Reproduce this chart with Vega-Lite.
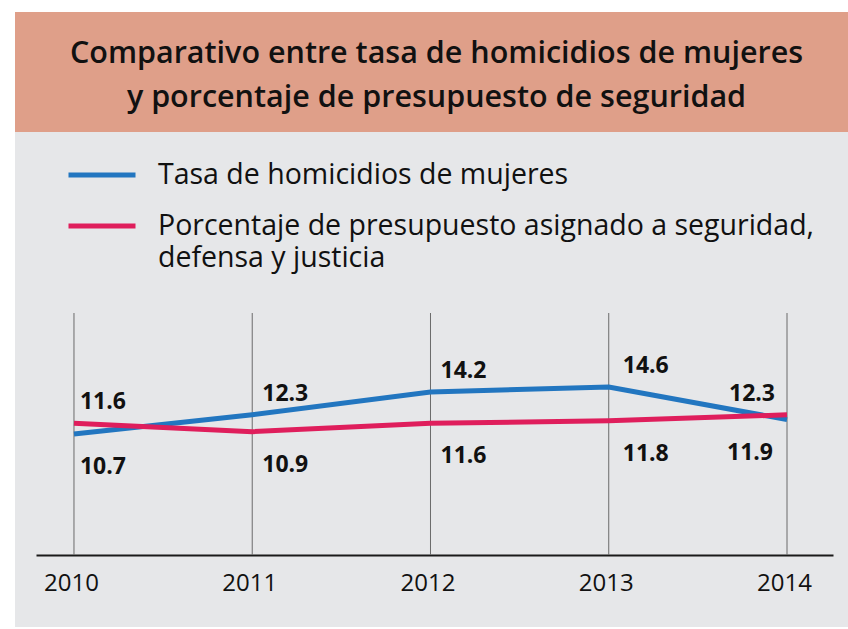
{
  "$schema": "https://vega.github.io/schema/vega-lite/v6.json",
  "background": "white",
  "padding": {"left": 15, "top": 12, "right": 0, "bottom": 2},
  "spacing": 0,
  "config": {"font": "Open Sans", "concat": {"spacing": 0}, "view": {"stroke": null}},
  "datasets": {
    "lines": [
      {"year": 2010, "serie": "Tasa de homicidios de mujeres", "value": 10.7},
      {"year": 2011, "serie": "Tasa de homicidios de mujeres", "value": 12.3},
      {"year": 2012, "serie": "Tasa de homicidios de mujeres", "value": 14.2},
      {"year": 2013, "serie": "Tasa de homicidios de mujeres", "value": 14.6},
      {"year": 2014, "serie": "Tasa de homicidios de mujeres", "value": 11.9},
      {"year": 2010, "serie": "Porcentaje de presupuesto asignado a seguridad, defensa y justicia", "value": 11.6},
      {"year": 2011, "serie": "Porcentaje de presupuesto asignado a seguridad, defensa y justicia", "value": 10.9},
      {"year": 2012, "serie": "Porcentaje de presupuesto asignado a seguridad, defensa y justicia", "value": 11.6},
      {"year": 2013, "serie": "Porcentaje de presupuesto asignado a seguridad, defensa y justicia", "value": 11.8},
      {"year": 2014, "serie": "Porcentaje de presupuesto asignado a seguridad, defensa y justicia", "value": 12.3}
    ],
    "years": [{"year": 2010}, {"year": 2011}, {"year": 2012}, {"year": 2013}, {"year": 2014}],
    "heading": [
      {"line": 1, "text": "Comparativo entre tasa de homicidios de mujeres"},
      {"line": 2, "text": "y porcentaje de presupuesto de seguridad"}
    ]
  },
  "vconcat": [
    {
      "width": 833,
      "height": 120,
      "view": {"fill": "#DF9F89", "stroke": null},
      "data": {"name": "heading"},
      "mark": {"type": "text", "fontSize": 30.5, "fontWeight": 600, "color": "#111111", "baseline": "alphabetic", "align": "center", "dx": 5},
      "encoding": {
        "y": {"field": "line", "type": "ordinal", "axis": null, "scale": {"type": "point", "range": [51, 95], "padding": 0}},
        "text": {"field": "text"}
      }
    },
    {
      "width": 833,
      "height": 495,
      "view": {"fill": "#E6E7E9", "stroke": null},
      "layer": [
        {
          "data": {"name": "years"},
          "mark": {"type": "rule", "color": "#6b6b6b", "strokeWidth": 1},
          "encoding": {
            "x": {"field": "year", "type": "quantitative",
              "scale": {"domain": [2009.787, 2014.258], "range": [21, 818], "nice": false, "zero": false},
              "axis": {"title": null, "values": [2010, 2011, 2012, 2013, 2014], "format": "d", "orient": "bottom", "offset": -72, "domainColor": "#1a1a1a", "domainWidth": 2, "ticks": false, "grid": false, "labelFontSize": 24, "labelColor": "#111111", "labelPadding": 16, "labelFont": "Open Sans", "labelFlush": false, "labelOffset": -3}},
            "y": {"datum": 20.75, "type": "quantitative", "scale": {"domain": [0.66, 20.75], "range": [423, 181], "nice": false, "zero": false}, "axis": null},
            "y2": {"datum": 0.66}
          }
        },
        {
          "data": {"name": "lines"},
          "mark": {"type": "line", "strokeWidth": 5, "strokeCap": "butt"},
          "encoding": {
            "x": {"field": "year", "type": "quantitative",
              "scale": {"domain": [2009.787, 2014.258], "range": [21, 818], "nice": false, "zero": false},
              "axis": {"title": null, "values": [2010, 2011, 2012, 2013, 2014], "format": "d", "orient": "bottom", "offset": -72, "domainColor": "#1a1a1a", "domainWidth": 2, "ticks": false, "grid": false, "labelFontSize": 24, "labelColor": "#111111", "labelPadding": 16, "labelFont": "Open Sans", "labelFlush": false, "labelOffset": -3}},
            "y": {"field": "value", "type": "quantitative", "axis": null},
            "color": {"field": "serie", "type": "nominal",
              "scale": {"domain": ["Tasa de homicidios de mujeres", "Porcentaje de presupuesto asignado a seguridad, defensa y justicia"], "range": ["#2276C0", "#DF1E5C"]},
              "legend": {"orient": "none", "legendX": 51, "legendY": 127, "title": null, "padding": 0,
                "symbolType": "stroke", "symbolSize": 4489, "symbolStrokeWidth": 5,
                "labelFont": "Open Sans", "labelFontSize": 28.5, "labelColor": "#111111", "labelOffset": 20, "labelLimit": 0, "rowPadding": 0,
                "encode": {"labels": {"update": {"lineHeight": {"value": 32}}}},
                "labelExpr": "datum.label == 'Tasa de homicidios de mujeres' ? datum.label : ['Porcentaje de presupuesto asignado a seguridad,', 'defensa y justicia']"}
            }
          }
        },
        {
          "data": {"name": "lines"},
          "transform": [
            {"joinaggregate": [{"op": "max", "field": "value", "as": "maxv"}], "groupby": ["year"]},
            {"filter": "datum.value == datum.maxv"}
          ],
          "mark": {"type": "text", "fontSize": 23, "fontWeight": "bold", "color": "#111111", "baseline": "middle",
            "align": {"expr": "datum.year == 2014 ? 'right' : 'left'"},
            "dx": {"expr": "datum.year == 2014 ? -12 : datum.year == 2010 ? 6 : datum.year == 2013 ? 14 : 10"},
            "dy": -21},
          "encoding": {
            "x": {"field": "year", "type": "quantitative",
              "scale": {"domain": [2009.787, 2014.258], "range": [21, 818], "nice": false, "zero": false},
              "axis": {"title": null, "values": [2010, 2011, 2012, 2013, 2014], "format": "d", "orient": "bottom", "offset": -72, "domainColor": "#1a1a1a", "domainWidth": 2, "ticks": false, "grid": false, "labelFontSize": 24, "labelColor": "#111111", "labelPadding": 16, "labelFont": "Open Sans", "labelFlush": false, "labelOffset": -3}},
            "y": {"field": "value", "type": "quantitative", "axis": null},
            "text": {"field": "value", "type": "quantitative", "format": ".1f"}
          }
        },
        {
          "data": {"name": "lines"},
          "transform": [
            {"joinaggregate": [{"op": "max", "field": "value", "as": "maxv"}], "groupby": ["year"]},
            {"filter": "datum.value < datum.maxv"}
          ],
          "mark": {"type": "text", "fontSize": 23, "fontWeight": "bold", "color": "#111111", "baseline": "middle",
            "align": {"expr": "datum.year == 2014 ? 'right' : 'left'"},
            "dx": {"expr": "datum.year == 2014 ? -14 : datum.year == 2010 ? 6 : datum.year == 2013 ? 14 : 10"},
            "dy": 33},
          "encoding": {
            "x": {"field": "year", "type": "quantitative",
              "scale": {"domain": [2009.787, 2014.258], "range": [21, 818], "nice": false, "zero": false},
              "axis": {"title": null, "values": [2010, 2011, 2012, 2013, 2014], "format": "d", "orient": "bottom", "offset": -72, "domainColor": "#1a1a1a", "domainWidth": 2, "ticks": false, "grid": false, "labelFontSize": 24, "labelColor": "#111111", "labelPadding": 16, "labelFont": "Open Sans", "labelFlush": false, "labelOffset": -3}},
            "y": {"field": "value", "type": "quantitative", "axis": null},
            "text": {"field": "value", "type": "quantitative", "format": ".1f"}
          }
        }
      ]
    }
  ]
}
